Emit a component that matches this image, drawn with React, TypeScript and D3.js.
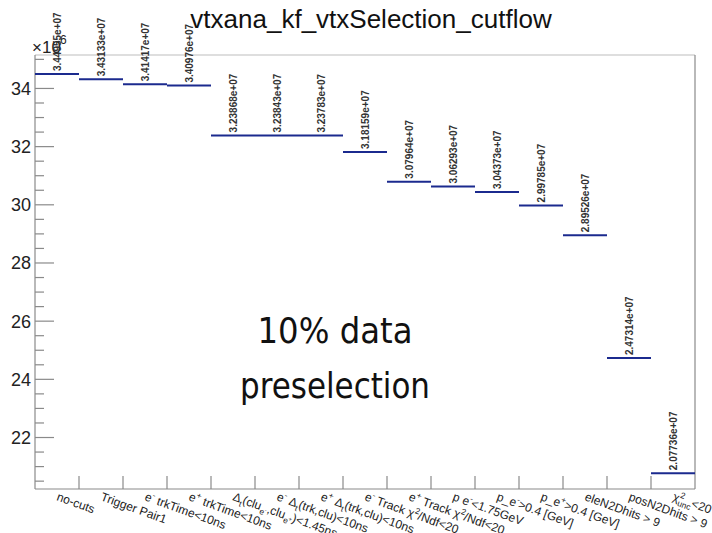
import React from "react";
import * as d3 from "d3";

const categories: string[] = [
  "no-cuts",
  "Trigger Pair1",
  "e^{-} trkTime<10ns",
  "e^{+} trkTime<10ns",
  "Δ_{t}(clu_{e^{-}},clu_{e^{+}})<1.45ns",
  "e^{-} Δ_{t}(trk,clu)<10ns",
  "e^{+} Δ_{t}(trk,clu)<10ns",
  "e^{-} Track χ^{2}/Ndf<20",
  "e^{+} Track χ^{2}/Ndf<20",
  "p e^{-}<1.75GeV",
  "p_e^{-}>0.4 [GeV]",
  "p_e^{+}>0.4 [GeV]",
  "eleN2Dhits > 9",
  "posN2Dhits > 9",
  "χ^{2}_{unc}<20",
];

const counts: number[] = [
  34495500, 34313300, 34141700, 34097600, 32386800, 32384300, 32378300,
  31815900, 30796400, 30629300, 30437300, 29978500, 28952600, 24731400,
  20773600,
];

const yTicks: number[] = [22, 24, 26, 28, 30, 32, 34];
const titleText = "vtxana_kf_vtxSelection_cutflow";
const noteLines: string[] = ["10% data", "preselection"];

type Seg = { text: string; shift: number; size: number; dx?: number };

function parseLatex(s: string, base: number): Seg[] {
  const out: Seg[] = [];
  const rec = (str: string, shift: number, size: number) => {
    let buf = "";
    let prevSup = false;
    let prevSupW = 0;
    const flush = () => {
      if (buf) {
        out.push({ text: buf, shift, size });
        buf = "";
      }
    };
    let i = 0;
    while (i < str.length) {
      const c = str[i];
      if ((c === "^" || c === "_") && str[i + 1] === "{") {
        flush();
        let depth = 0;
        let j = i + 1;
        for (; j < str.length; j++) {
          if (str[j] === "{") depth++;
          else if (str[j] === "}") {
            depth--;
            if (depth === 0) break;
          }
        }
        const inner = str.slice(i + 2, j);
        const ns = size * 0.7;
        const nshift = c === "^" ? shift - size * 0.42 : shift + size * 0.3;
        const startIdx = out.length;
        rec(inner, nshift, ns);
        if (c === "_" && prevSup && out[startIdx]) {
          out[startIdx].dx = -prevSupW;
        }
        prevSup = c === "^";
        prevSupW = inner.replace(/[\^_{}]/g, "").length * 0.56 * ns;
        i = j + 1;
        continue;
      }
      buf += c;
      prevSup = false;
      i++;
    }
    flush();
  };
  rec(s, 0, base);
  return out;
}

const W = 712;
const H = 533;
const left = 35;
const right = 695;
const top = 55;
const bottom = 489;

export default function App() {
  const idx = categories.map((_, i) => i);
  const x = d3.scaleBand<number>().domain(idx).range([left, right]).padding(0);
  const y = d3.scaleLinear().domain([20.23, 35.15]).range([bottom, top]);
  const bw = x.bandwidth();
  const minorTicks = d3.range(20.5, 35.01, 0.5).filter((v) => v % 2 !== 0);
  const fmt = (v: number) => v.toExponential(5).replace(/e\+(\d)$/, "e+0$1");
  const axisColor = "#8a8a8a";
  const lineColor = "#1b2a8e";
  const font = "'Liberation Sans', Arial, Helvetica, sans-serif";

  return (
    <svg
      width={W}
      height={H}
      style={{ position: "absolute", left: 0, top: 0, background: "#fff" }}
      fontFamily={font}
    >
      <rect x={0} y={0} width={W} height={H} fill="#fff" />
      {/* title */}
      <text x={371} y={28} textAnchor="middle" fontSize={26} fill="#111">
        {titleText}
      </text>
      {/* frame */}
      <line x1={left} x2={right} y1={top} y2={top} stroke="#bdbdbd" strokeWidth={1.2} />
      <line x1={right} x2={right} y1={top} y2={bottom} stroke={axisColor} strokeWidth={1.2} />
      <line x1={left} x2={left} y1={top} y2={bottom} stroke={axisColor} strokeWidth={1.2} />
      <line x1={left} x2={right} y1={bottom} y2={bottom} stroke={axisColor} strokeWidth={1.2} />
      {/* y ticks */}
      {yTicks.map((t) => (
        <g key={"yt" + t}>
          <line x1={left} x2={left + 19} y1={y(t)} y2={y(t)} stroke={axisColor} strokeWidth={1.2} />
          <text x={31} y={y(t)} dy="0.36em" textAnchor="end" fontSize={18} fill="#222">
            {t}
          </text>
        </g>
      ))}
      {minorTicks.map((t) => (
        <line key={"ym" + t} x1={left} x2={left + 9} y1={y(t)} y2={y(t)} stroke={axisColor} strokeWidth={1.2} />
      ))}
      {/* exponent */}
      <text x={32} y={53} fontSize={17} fill="#222">
        ×10
      </text>
      <text x={60} y={44} fontSize={12} fill="#222">
        6
      </text>
      {/* x ticks */}
      {idx.slice(1).map((i) => (
        <line key={"xt" + i} x1={x(i)!} x2={x(i)!} y1={bottom} y2={bottom - 13} stroke={axisColor} strokeWidth={1.2} />
      ))}
      {/* histogram */}
      {counts.map((c, i) => {
        const v = c / 1e6;
        const x0 = x(i)!;
        return (
          <line key={"h" + i} x1={x0} x2={x0 + bw} y1={y(v)} y2={y(v)} stroke={lineColor} strokeWidth={2} />
        );
      })}
      {/* value labels */}
      {counts.map((c, i) => {
        const v = c / 1e6;
        const cx = x(i)! + bw / 2 + 4;
        const cy = y(v) - 3;
        return (
          <text
            key={"vl" + i}
            transform={`translate(${cx},${cy}) rotate(-90)`}
            fontSize={10}
            fontWeight="bold"
            fill="#333"
          >
            {fmt(c)}
          </text>
        );
      })}
      {/* category labels */}
      {categories.map((cat, i) => {
        const segs = parseLatex(cat, 12);
        let prev = 0;
        const cx = x(i)! + bw / 2 - 1;
        return (
          <text
            key={"cl" + i}
            transform={`translate(${cx},500) rotate(20)`}
            fontSize={12}
            fill="#222"
            style={{ whiteSpace: "pre" }}
          >
            {segs.map((s, k) => {
              const dy = s.shift - prev;
              prev = s.shift;
              return (
                <tspan key={k} dy={dy} dx={s.dx} fontSize={s.size}>
                  {s.text}
                </tspan>
              );
            })}
          </text>
        );
      })}
      {/* annotation */}
      <text
        x={335}
        y={343}
        textAnchor="middle"
        fontSize={36}
        fontFamily="'DejaVu Sans', sans-serif"
        fill="#111"
        textLength={155}
        lengthAdjust="spacingAndGlyphs"
      >
        {noteLines[0]}
      </text>
      <text
        x={335}
        y={398}
        textAnchor="middle"
        fontSize={36}
        fontFamily="'DejaVu Sans', sans-serif"
        fill="#111"
        textLength={190}
        lengthAdjust="spacingAndGlyphs"
      >
        {noteLines[1]}
      </text>
    </svg>
  );
}
